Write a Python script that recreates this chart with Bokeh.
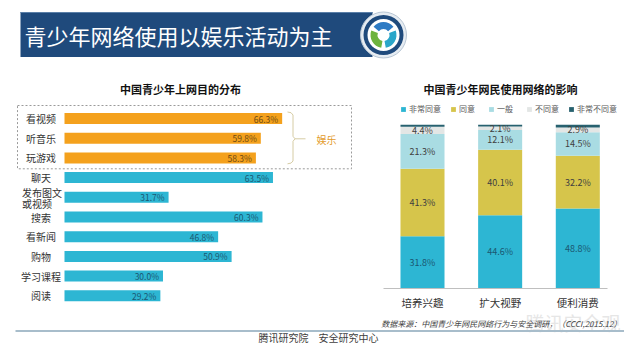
import numpy as np
from bokeh.plotting import figure
from bokeh.models import Range1d, ColumnDataSource
from bokeh.core.properties import value
from bokeh.embed import file_html
from bokeh.resources import INLINE

# ---------------- data ----------------
page_title = "青少年网络使用以娱乐活动为主"

left_title = "中国青少年上网目的分布"
purposes = ["看视频", "听音乐", "玩游戏", "聊天", "发布图文\n或视频",
            "搜索", "看新闻", "购物", "学习课程", "阅读"]
purpose_pct = [66.3, 59.8, 58.3, 63.5, 31.7, 60.3, 46.8, 50.9, 30.0, 29.2]
purpose_group = ["娱乐", "娱乐", "娱乐", "其他", "其他",
                 "其他", "其他", "其他", "其他", "其他"]
group_label = "娱乐"

right_title = "中国青少年网民使用网络的影响"
impacts = ["培养兴趣", "扩大视野", "便利消费"]
levels = ["非常同意", "同意", "一般", "不同意", "非常不同意"]
very_agree = [31.8, 44.6, 48.8]
agree = [41.3, 40.1, 32.2]
neutral = [21.3, 12.1, 14.5]
disagree = [4.4, 2.1, 2.9]
very_disagree = [1.2, 1.1, 1.6]

source_note = "数据来源：中国青少年网民网络行为与安全调研，（CCCI,2015.12）"
watermark = "腾讯安全观"
footer_text = "腾讯研究院\u3000安全研究中心"

# ---------------- styles ----------------
FONT_NAME = "Noto Sans CJK SC"
FONT = value(FONT_NAME)
ORANGE = "#F4A11D"
TEAL = "#2DB6D3"
level_colors = ["#2DB6D3", "#D6C54B", "#A9DCE3", "#E3E6E5", "#27616F"]
group_colors = {"娱乐": ORANGE, "其他": TEAL}
group_text = {"娱乐": "#6E4A12", "其他": "#1B5872"}

W, H = 624, 344
p = figure(width=W, height=H, x_range=Range1d(0, W), y_range=Range1d(H, 0),
           output_backend="svg", toolbar_location=None, min_border=0,
           x_axis_location=None, y_axis_location=None)
p.grid.visible = False
p.outline_line_color = None
p.background_fill_color = "#FFFFFF"
p.border_fill_color = "#FFFFFF"

# left chart scales (percent -> px, row index -> px)
LX0, LXS = 64.0, 3.283
LY0, LYS = 118.0, 19.7
p.extra_x_ranges["lx"] = Range1d((0 - LX0) / LXS, (W - LX0) / LXS)
p.extra_y_ranges["ly"] = Range1d((H - LY0) / LYS, (0 - LY0) / LYS)
# right chart scales
RX0, RXS = 422.0, 77.65
RY0, RYS = 287.7, 1.634
p.extra_x_ranges["rx"] = Range1d((0 - RX0) / RXS, (W - RX0) / RXS)
p.extra_y_ranges["ry"] = Range1d((RY0 - H) / RYS, (RY0 - 0) / RYS)

# ---------------- header ----------------
p.quad(left=20, right=372, top=11.5, bottom=56.5, fill_color="#1F4A7C", line_color=None)
p.segment(x0=20, y0=12, x1=372, y1=12, line_color="#5A7FA8", line_width=1)
p.text(x=24, y=34, text=[page_title], text_font=FONT, text_font_size="22px",
       text_color="#FFFFFF", text_baseline="middle", text_align="left")
# logo
p.scatter(x=[383], y=[34.5], size=46, marker="circle", fill_color="#E6ECF2",
          line_color="#B8C6D4", line_width=1)
p.scatter(x=[383], y=[34.5], size=40, marker="circle", fill_color="#1F4A7C", line_color=None)
p.scatter(x=[383], y=[34.5], size=32, marker="circle", fill_color="#FFFFFF", line_color=None)
p.annular_wedge(x=[383, 383, 383], y=[34.5, 34.5, 34.5], inner_radius=6, outer_radius=13,
                inner_radius_units="screen", outer_radius_units="screen",
                start_angle=[40, 160, 280], end_angle=[140, 260, 380], start_angle_units="deg",
                end_angle_units="deg", fill_color=["#2E7BC4", "#6DB33F", "#2AA6C9"], line_color=None)

# ---------------- left chart ----------------
p.text(x=180, y=88, text=[left_title], text_font=FONT, text_font_size="11px",
       text_font_style="bold", text_color="#111111", text_align="center", text_baseline="middle")

# dashed box around the entertainment group
p.quad(left=17, right=351, top=105, bottom=168.3, fill_color=None,
       line_color="#9A9A9A", line_dash="2 2", line_width=1)

lsrc = ColumnDataSource(dict(
    y=list(range(len(purposes))),
    v=purpose_pct,
    c=[group_colors[g] for g in purpose_group],
    tc=[group_text[g] for g in purpose_group],
    lab=[f"{v:.1f}%" for v in purpose_pct],
))
p.hbar(y="y", left=0, right="v", height=0.56, fill_color="c", line_color=None,
       source=lsrc, x_range_name="lx", y_range_name="ly")
p.text(x="v", y="y", text="lab", source=lsrc, x_range_name="lx", y_range_name="ly",
       x_offset=-4, text_align="right", text_baseline="middle", text_font=FONT,
       text_font_size="8.5px", text_color="tc")

# category labels (multi-line labels are drawn line by line)
single = dict(y=[], t=[])
multi = dict(y=[], t=[], dy=[])
for i, name in enumerate(purposes):
    lines = name.split("\n")
    if len(lines) == 1:
        single["y"].append(i)
        single["t"].append(name)
    else:
        n = len(lines)
        for k, ln in enumerate(lines):
            multi["y"].append(i)
            multi["t"].append(ln)
            multi["dy"].append((k - (n - 1) / 2) * 11 + 1)
p.text(x=40.5, y="y", text="t", source=ColumnDataSource(single), y_range_name="ly",
       text_align="center", text_baseline="middle", text_font=FONT,
       text_font_size="10px", text_color="#333333")
p.text(x=21.5, y="y", text="t", y_offset="dy", source=ColumnDataSource(multi), y_range_name="ly",
       text_align="left", text_baseline="middle", text_font=FONT,
       text_font_size="10px", text_color="#333333")

# bracket and group label
p.line(x=[287, 290.5, 292.5, 292.5, 294.5, 305], y=[111.5, 112.2, 114.5, 135.8, 138.3, 138.3],
       line_color="#D6CCA4", line_width=1)
p.line(x=[294.5, 292.5, 292.5, 290.5, 287], y=[138.3, 140.8, 160.5, 162.6, 163.3],
       line_color="#D6CCA4", line_width=1)
p.text(x=316, y=139, text=[group_label], text_font=FONT, text_font_size="10px",
       text_color="#E39B2A", text_align="left", text_baseline="middle")

# ---------------- right chart ----------------
p.text(x=500, y=88, text=[right_title], text_font=FONT, text_font_size="11px",
       text_font_style="bold", text_color="#111111", text_align="center", text_baseline="middle")

rdata = {"x": list(range(len(impacts)))}
for name, vals in zip(levels, [very_agree, agree, neutral, disagree, very_disagree]):
    rdata[name] = vals
rsrc = ColumnDataSource(rdata)
p.vbar_stack(levels, x="x", width=0.567, fill_color=level_colors, line_color=None,
             source=rsrc, legend_label=levels, x_range_name="rx", y_range_name="ry")

arr = np.array([very_agree, agree, neutral, disagree])
mids = np.cumsum(arr, axis=0) - arr / 2
seg_text_colors = ["#1B5872", "#404040", "#404040", "#404040"]
sx, sy, st, sc = [], [], [], []
for i in range(arr.shape[0]):
    for j in range(arr.shape[1]):
        sx.append(j)
        sy.append(float(mids[i, j]))
        st.append(f"{arr[i, j]:.1f}%")
        sc.append(seg_text_colors[i])
p.text(x=sx, y=sy, text=st, text_color=sc, x_range_name="rx", y_range_name="ry",
       text_align="center", text_baseline="middle", text_font=FONT, text_font_size="9px")

# baseline and category labels
p.segment(x0=383, y0=288, x1=607, y1=288, line_color="#BFBFBF", line_width=1)
p.text(x=list(range(len(impacts))), y=[302] * len(impacts), text=impacts, x_range_name="rx",
       text_align="center", text_baseline="middle", text_font=FONT, text_font_size="10.5px",
       text_color="#333333")

leg = p.legend[0]
leg.orientation = "horizontal"
leg.location = (400, 230)
leg.background_fill_alpha = 0
leg.border_line_color = None
leg.padding = 0
leg.margin = 0
leg.spacing = 9
leg.label_standoff = 3
leg.glyph_width = 6
leg.glyph_height = 6
leg.label_height = 10
leg.label_text_font = FONT_NAME
leg.label_text_font_size = "8px"
leg.label_text_color = "#595959"

# ---------------- footer ----------------
p.text(x=620, y=322, text=[watermark], text_font=FONT, text_font_size="19px",
       text_color="#E6E6E6", text_align="right", text_baseline="middle")
p.text(x=621, y=323, text=[source_note], text_font=FONT, text_font_size="8px",
       text_font_style="italic", text_color="#404040", text_align="right", text_baseline="middle")
p.segment(x0=15, y0=330.5, x1=624, y1=330.5, line_color="#A8BDCB", line_width=2)
p.text(x=318, y=337, text=[footer_text], text_font=FONT, text_font_size="10px",
       text_color="#404040", text_align="center", text_baseline="middle")

open("out.html", "w").write(file_html(p, INLINE))
